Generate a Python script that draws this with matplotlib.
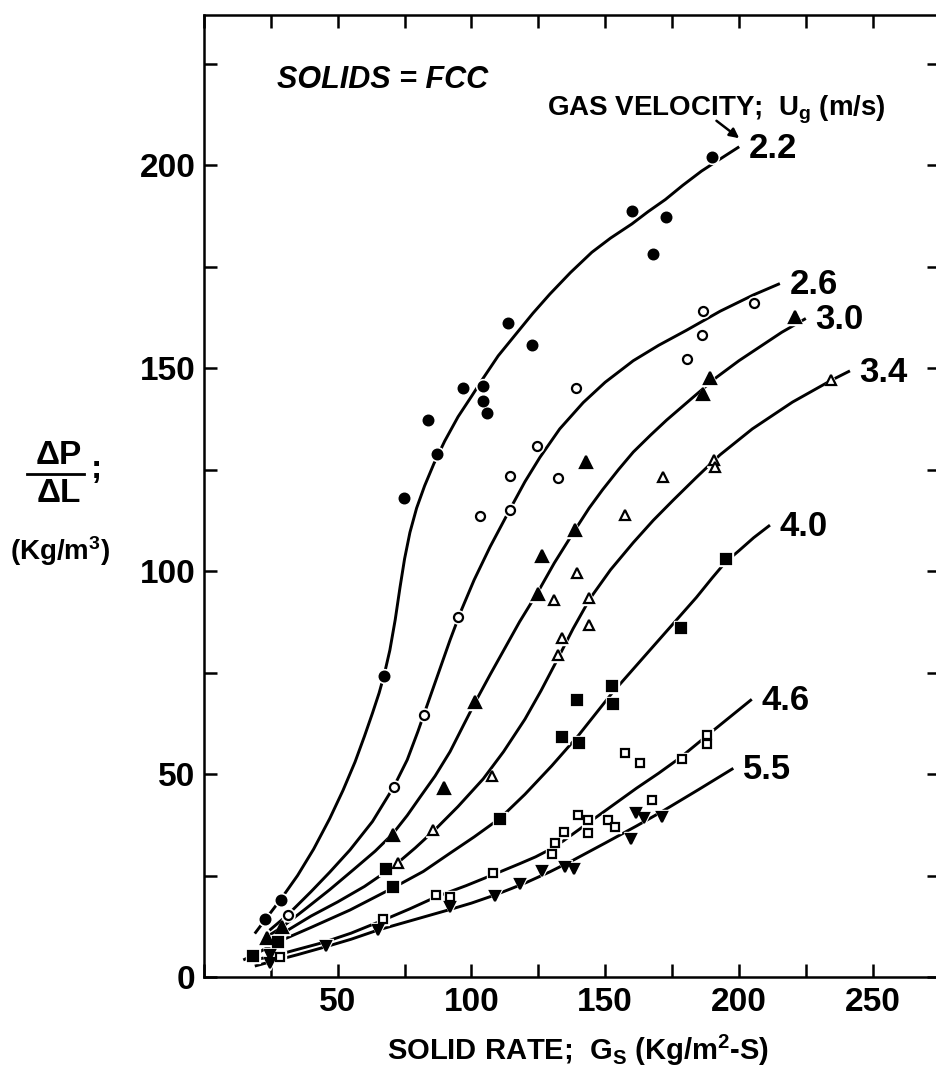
import numpy as np
import matplotlib
matplotlib.use('Agg')
import matplotlib.pyplot as plt
from matplotlib.ticker import MultipleLocator, FuncFormatter
from matplotlib.lines import Line2D

# gas velocities (m/s) for each run
velocities = ['2.2', '2.6', '3.0', '3.4', '4.0', '4.6', '5.5']

# hand-fitted curves: solid rate Gs (kg/m2 s) and pressure gradient (kg/m3)
curve_x = {
    '2.2': [19, 23, 29, 35, 41, 47, 52, 56.5, 60, 63, 65.5, 67.4, 69.5, 71.5, 73.3, 75,
            77, 79.5, 82.5, 86, 90, 95, 100, 104.4, 110, 116.8, 123, 129.3, 137, 145,
            152, 160, 166, 172.5, 179, 186, 193, 200.1],
    '2.6': [24.5, 31.3, 40, 47, 54.6, 63, 71, 76, 80, 84, 88, 92, 96, 101, 107, 114.4,
            120, 125.6, 133, 141.8, 150, 160.5, 170, 180.4, 193, 205.4, 215.3],
    '3.0': [23.5, 29, 38, 47, 56, 64, 70.5, 76, 81, 86.4, 92, 97, 101.5, 107, 112.5,
            118, 125, 131, 138.7, 144, 149, 155, 160.5, 167, 173, 184.1, 191.6, 200,
            208, 216, 225],
    '3.4': [24, 30, 40, 50, 60, 66, 72.6, 79, 86.4, 95, 104.4, 112, 120, 126, 131.8,
            138, 144.3, 152, 160.5, 168, 175.5, 184, 192.9, 205, 220, 234.6, 241.5],
    '4.0': [14.7, 18.4, 23, 27.8, 40, 54.6, 71.4, 82, 92, 101, 110.7, 120, 130, 140,
            152.4, 166.7, 184.1, 190, 195, 200, 205.5, 211.6],
    '4.6': [21, 27.2, 35, 44.6, 55, 67, 77, 87, 98, 108.1, 118, 124, 129, 134.3, 141,
            148, 161.7, 170, 178, 190, 204.8],
    '5.5': [19, 25.2, 35, 45.8, 55, 65.2, 78, 91.3, 100, 108.8, 115, 120.6, 129.3,
            138.1, 150, 161.7, 171.6, 185, 197.9],
}
curve_y = {
    '2.2': [10.7, 14.2, 19.4, 25, 31.5, 39, 46, 53, 59.3, 65, 70, 74.5, 80.5, 88, 96,
            103, 109.5, 115.5, 121, 126.5, 132, 138, 143, 147.5, 153, 158.5, 163.5,
            168.2, 173.5, 178.5, 182, 185.5, 188.5, 191.5, 195, 198.5, 201.5, 204.5],
    '2.6': [11.5, 15.3, 21, 25.8, 31.3, 38.3, 46.9, 53.5, 60.5, 68, 75.5, 83, 90, 97.8,
            106, 115.2, 122, 128, 135, 141.5, 146.5, 151.8, 155.6, 159.3, 164, 168,
            170.8],
    '3.0': [9.9, 12.2, 16.8, 21.5, 26.5, 31, 35.2, 39.8, 44.5, 49.5, 55.5, 62, 67.8,
            74.5, 81, 87.5, 95, 102, 110.1, 115.5, 120, 125, 129.3, 133.5, 137.2, 143.5,
            147.7, 151.8, 155.3, 158.8, 162.2],
    '3.4': [8.5, 11, 15, 18.5, 22.3, 25, 28.2, 31.8, 36.3, 42, 48.8, 55.5, 63.5, 70.5,
            77.8, 85.8, 93.2, 100.3, 107, 112.5, 117.5, 123, 128.6, 135, 141.6, 147,
            149.3],
    '4.0': [4.2, 5.3, 7, 8.7, 12.2, 16.5, 22.2, 26, 30.5, 34.5, 39.1, 45, 52, 59.5, 69.8,
            80.5, 93.5, 98.3, 102.2, 105, 108.2, 111.3],
    '4.6': [4.5, 5.4, 6.8, 8.5, 10.8, 14, 16.8, 19.8, 22.5, 25.2, 27.9, 29.6, 31.3,
            33.5, 36.7, 40, 46.5, 50.2, 54, 60.5, 68.4],
    '5.5': [2.7, 3.8, 5.5, 7.5, 9.3, 11.6, 14, 16.5, 18.2, 20.2, 21.8, 23.3, 25.9, 28.8,
            33, 37.2, 40.9, 46.2, 51.4],
}

# measured points
point_x = {
    '2.2': [23, 28.8, 67.4, 74.8, 83.9, 87, 96.7, 104.2, 104.2, 105.9, 113.8, 122.7,
            160.1, 168, 172.6, 189.8],
    '2.6': [31.3, 71, 82.1, 94.9, 103.2, 114.5, 114.6, 124.5, 132.2, 139.1, 180.6, 186.3,
            186.6, 205.6],
    '3.0': [23.4, 29, 70.5, 89.6, 101.4, 125, 126.2, 138.7, 143, 186.4, 189.2, 220.9],
    '3.4': [72.6, 85.7, 107.5, 130.7, 132.5, 133.7, 139.3, 144.1, 144.1, 157.4, 171.7,
            190.6, 191, 234.6],
    '4.0': [18.4, 27.8, 68, 70.8, 110.7, 134, 139.6, 140.3, 152.4, 153, 178.5, 195.1],
    '4.6': [28.4, 67, 86.9, 92, 108.1, 130.3, 131.2, 134.5, 139.7, 143.7, 143.7, 151.1,
            153.6, 157.4, 163, 167.4, 178.6, 188.2, 188.2],
    '5.5': [24.7, 24.7, 45.8, 65.2, 92, 108.8, 118.2, 126.2, 135, 138.2, 159.5, 161.5,
            164.5, 171.3],
}
point_y = {
    '2.2': [14.3, 19, 74.1, 117.9, 137.2, 128.8, 145, 145.6, 142, 138.8, 161.2, 155.7,
            188.7, 178.2, 187.3, 202],
    '2.6': [15.3, 46.9, 64.5, 88.7, 113.6, 115.1, 123.4, 130.7, 123, 145, 152.2, 158.1,
            164, 165.9],
    '3.0': [9.6, 12.2, 35.1, 46.5, 67.7, 94.3, 103.6, 110.1, 126.9, 143.5, 147.5, 162.6],
    '3.4': [28, 36.2, 49.5, 92.9, 79.3, 83.6, 99.6, 93.3, 86.7, 113.8, 123.2, 127.3,
            125.5, 147],
    '4.0': [5.2, 8.7, 26.5, 22.2, 38.9, 59.2, 68.2, 57.7, 71.7, 67.2, 86, 102.9],
    '4.6': [5, 14.3, 20.2, 19.8, 25.6, 30.3, 33, 35.8, 40, 38.7, 35.4, 38.7, 36.9, 55.2,
            52.6, 43.6, 53.6, 59.5, 57.5],
    '5.5': [5.4, 3.4, 7.6, 11.6, 17.3, 19.9, 23, 26.1, 27, 26.7, 33.9, 40.3, 39.1, 39.3],
}

# marker style per velocity: (marker, filled, size)
styles = {
    '2.2': ('o', True, 7),
    '2.6': ('o', False, 6.5),
    '3.0': ('^', True, 8),
    '3.4': ('^', False, 6.5),
    '4.0': ('s', True, 7.5),
    '4.6': ('s', False, 6),
    '5.5': ('v', True, 7.5),
}

W, H = 936, 1081
plt.rcParams['font.family'] = ['Liberation Sans', 'DejaVu Sans']
plt.rcParams['font.weight'] = 'bold'
plt.rcParams['mathtext.fontset'] = 'custom'
plt.rcParams['mathtext.rm'] = 'Liberation Sans:bold'
plt.rcParams['mathtext.it'] = 'Liberation Sans:bold'
plt.rcParams['mathtext.bf'] = 'Liberation Sans:bold'
plt.rcParams['mathtext.default'] = 'rm'

fig = plt.figure(figsize=(W / 100, H / 100), dpi=100)
ax = fig.add_axes([0.2179, 0.0962, 0.7859, 0.8901])

for v in velocities:
    ax.plot(curve_x[v], curve_y[v], color='black', lw=2.1, zorder=2,
            solid_joinstyle='round', solid_capstyle='butt')

for v in velocities:
    m, filled, ms = styles[v]
    # white rim so the fitted line breaks around each symbol
    ax.plot(point_x[v], point_y[v], ls='none', marker=m, ms=ms + 3,
            color='white', mec='white', zorder=3)
    ax.plot(point_x[v], point_y[v], ls='none', marker=m, ms=ms,
            mfc='black' if filled else 'white', mec='black', mew=1.6, zorder=4)

    ax.annotate(v, xy=(curve_x[v][-1], curve_y[v][-1]), xytext=(7, -1),
                textcoords='offset points', ha='left', va='center',
                fontsize=25, fontweight='bold')

ax.set_xlim(0, 275)
ax.set_ylim(0, 237)

ax.xaxis.set_major_locator(MultipleLocator(25))
ax.yaxis.set_major_locator(MultipleLocator(25))
ax.xaxis.set_major_formatter(FuncFormatter(
    lambda val, pos: '%d' % val if val > 0 and val % 50 == 0 else ''))
ax.yaxis.set_major_formatter(FuncFormatter(
    lambda val, pos: '%d' % val if val % 50 == 0 and val <= 200 else ''))

ax.tick_params(axis='both', which='major', direction='in', length=9.5, width=1.8,
               top=True, right=True, labelsize=24)
ax.tick_params(axis='x', pad=7)
ax.tick_params(axis='y', pad=6)
for lab in ax.get_xticklabels() + ax.get_yticklabels():
    lab.set_fontweight('bold')
for sp in ax.spines.values():
    sp.set_linewidth(1.8)

# arrow from the legend heading to the first curve
ax.annotate('', xy=(200.1, 206.6), xytext=(191.6, 210.9),
            arrowprops=dict(arrowstyle='-|>', color='black', lw=1.8,
                            mutation_scale=14, shrinkA=0, shrinkB=0))

fig.text(383 / W, 1 - 80 / H, 'SOLIDS = FCC', ha='center', va='center',
         fontsize=22, fontweight='bold', fontstyle='italic')
fig.text(716 / W, 1 - 110 / H, r'GAS VELOCITY;  U$_{\mathrm{g}}$ (m/s)',
         ha='center', va='center', fontsize=20, fontweight='bold')
fig.text(578 / W, 1 - 1050 / H, r'SOLID RATE;  G$_{\mathrm{S}}$ (Kg/m$^{2}$-S)',
         ha='center', va='center', fontsize=21, fontweight='bold')

# y-axis quantity drawn as a stacked fraction
fig.text(59 / W, 1 - 456 / H, '\u0394P', ha='center', va='center',
         fontsize=24, fontweight='bold')
fig.text(59 / W, 1 - 494 / H, '\u0394L', ha='center', va='center',
         fontsize=24, fontweight='bold')
fig.add_artist(Line2D([27 / W, 84 / W], [1 - 474 / H, 1 - 474 / H],
                      color='black', lw=2.0))
fig.text(96 / W, 1 - 470 / H, ';', ha='center', va='center',
         fontsize=24, fontweight='bold')
fig.text(60 / W, 1 - 551 / H, r'(Kg/m$^{3}$)', ha='center', va='center',
         fontsize=20, fontweight='bold')

fig.savefig('out.png', dpi=100)
